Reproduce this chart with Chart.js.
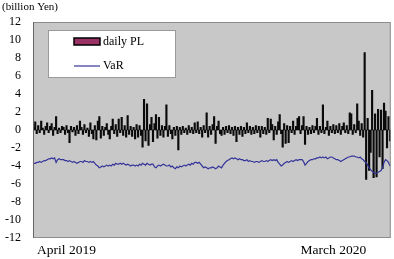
<!DOCTYPE html>
<html>
<head>
<meta charset="utf-8">
<script src="https://cdn.jsdelivr.net/npm/chart.js@4.4.0/dist/chart.umd.min.js"></script>
<style>
  html, body { margin: 0; padding: 0; background: #fff; }
  #wrap { width: 394px; height: 259px; }
</style>
</head>
<body>
<div id="wrap"><canvas id="pl-chart" width="394" height="259"></canvas></div>
<script>
// daily profit/loss, billion yen, one value per trading day (Apr 2019 - Mar 2020)
const dailyPL = [
    0.3, 0.9, -0.4, 0.5, -0.3, 1.0, 0.2, -0.5, 0.4, 0.8,
    -0.3, 0.4, 0.7, -0.6, 0.3, 1.5, -0.4, 0.2, -0.3, 0.4,
    0.3, -0.5, 0.5, -0.3, -1.4, 0.4, -0.2, 0.3, -0.6, 0.5,
    -0.4, 1.0, 0.3, -0.5, 0.6, -0.3, 0.2, -0.7, 0.8, -0.4,
    -1.0, 0.5, -1.1, 1.0, 1.5, -0.9, 0.4, -0.6, 0.3, 0.7,
    -0.5, -1.0, 0.4, 1.2, -0.4, 0.6, -0.7, 1.2, -0.3, 1.4,
    -0.6, 0.5, -0.8, 1.6, -0.5, 0.4, -0.7, 0.3, -1.0, 0.6,
    -0.8, 0.5, -0.6, -1.9, 3.4, -1.2, 2.9, -1.7, 0.6, 1.4,
    -1.3, 0.7, 1.7, -0.9, 1.4, -0.6, 0.5, -0.8, 0.4, 2.8,
    -0.7, 0.5, -0.4, -1.0, 0.3, -0.6, 0.4, -2.2, 0.3, -0.5,
    0.4, -0.3, 0.2, -0.5, 0.5, -0.3, 0.3, -0.4, 0.8, -0.3,
    0.9, -0.4, 0.3, -0.8, 0.5, -0.3, 1.9, -0.8, 0.4, -0.5,
    0.6, 1.5, -1.5, 0.4, 1.0, -0.4, -0.6, 0.3, -0.5, 0.4,
    -0.3, 0.5, -0.4, 0.3, -0.6, 0.4, -1.3, 0.3, -0.5, 0.4,
    -0.7, 0.3, -0.4, 0.8, -0.3, 0.4, -0.5, 0.3, -0.4, 0.5,
    -0.3, 0.4, -0.8, 0.4, -0.4, 0.3, -0.5, 1.3, -0.3, 1.2,
    0.6, -1.1, 0.4, -0.5, 0.9, 1.7, -0.4, -1.9, 0.7, -1.5,
    0.5, -1.4, 0.4, -0.3, 1.0, -0.5, 0.4, 1.3, 1.5, -0.4,
    0.5, 1.5, -1.6, 0.4, -0.5, 0.3, -0.4, 0.5, -0.3, 0.4,
    1.3, -0.5, 0.4, -0.3, 2.8, -0.4, 0.3, 1.0, -0.6, 0.4,
    -0.3, 0.6, -0.4, 0.5, -0.3, 0.7, -0.5, 0.4, 0.8, -0.3,
    0.5, -0.4, 1.9, 1.8, -0.5, 0.6, -0.3, 2.9, 1.0, -0.6,
    0.7, -0.8, 8.6, -5.5, 1.3, -4.5, -2.5, 4.4, -5.3, 1.8,
    -5.2, 2.3, -3.0, 2.2, -4.3, 3.0, 2.1, -2.0, 1.5, -1.2
];

// value at risk (shown as a loss), billion yen
const varLine = [
    -3.7, -3.7, -3.6, -3.6, -3.5, -3.6, -3.5, -3.4, -3.4, -3.3,
    -3.2, -3.2, -3.1, -3.2, -3.1, -3.6, -3.3, -3.2, -3.3, -3.3,
    -3.3, -3.4, -3.4, -3.5, -3.4, -3.5, -3.6, -3.5, -3.6, -3.7,
    -3.6, -3.5, -3.5, -3.6, -3.4, -3.5, -3.5, -3.6, -3.5, -3.6,
    -3.5, -3.7, -3.9, -4.0, -4.2, -4.1, -4.0, -4.1, -4.0, -3.9,
    -4.0, -3.9, -4.0, -3.8, -3.9, -3.7, -3.8, -3.8, -3.7, -3.8,
    -3.7, -3.8, -3.9, -3.8, -3.9, -4.0, -3.9, -3.9, -4.0, -3.9,
    -4.0, -3.8, -3.9, -3.7, -3.8, -3.9, -3.7, -3.8, -3.9, -3.8,
    -3.8, -4.1, -4.2, -4.0, -3.9, -4.0, -3.9, -3.8, -3.9, -4.0,
    -4.0, -3.9, -4.1, -4.0, -4.2, -4.3, -4.1, -4.2, -4.0, -4.1,
    -4.0, -3.9, -4.0, -3.9, -3.8, -3.9, -3.7, -3.8, -3.6, -3.6,
    -3.7, -3.6, -3.8, -4.0, -4.2, -4.1, -4.2, -4.3, -4.2, -4.2,
    -4.1, -4.2, -4.3, -4.2, -4.0, -4.1, -4.2, -3.9, -3.7, -3.5,
    -3.4, -3.3, -3.2, -3.1, -3.2, -3.1, -3.2, -3.3, -3.2, -3.3,
    -3.3, -3.4, -3.4, -3.3, -3.5, -3.4, -3.5, -3.5, -3.6, -3.5,
    -3.5, -3.6, -3.5, -3.4, -3.5, -3.5, -3.4, -3.5, -3.4, -3.3,
    -3.4, -3.3, -3.4, -3.3, -3.6, -3.8, -4.0, -3.9, -3.7, -3.6,
    -3.5, -3.6, -3.5, -3.4, -3.5, -3.4, -3.3, -3.4, -3.3, -3.3,
    -3.3, -3.5, -3.9, -3.7, -3.5, -3.4, -3.3, -3.3, -3.2, -3.2,
    -3.1, -3.1, -3.0, -3.1, -3.0, -3.1, -3.0, -3.2, -3.1, -3.0,
    -3.0, -3.1, -3.2, -3.3, -3.3, -3.4, -3.5, -3.4, -3.3, -3.2,
    -3.1, -3.0, -3.0, -2.9, -2.9, -2.9, -3.0, -3.0, -3.1, -3.0,
    -3.2, -3.3, -3.5, -3.6, -3.9, -4.2, -4.4, -4.6, -4.7, -4.8,
    -4.8, -4.7, -4.6, -4.5, -4.2, -3.6, -3.3, -3.4, -3.6, -4.0
];

const days = dailyPL.map((v, i) => i + 1);
const xTickLabels = ['April 2019', 'March 2020'];
const xTickDays = [23, 202];
const unitLabel = '(billion Yen)';

const serif = "'Liberation Serif', 'Times New Roman', serif";

const framePlugin = {
    id: 'frame',
    beforeDraw(chart) {
        const { ctx, chartArea: a } = chart;
        ctx.save();
        ctx.fillStyle = '#c8c8c8';
        ctx.fillRect(a.left, a.top, a.right - a.left, a.bottom - a.top);
        ctx.restore();
    },
    afterDraw(chart) {
        const { ctx, chartArea: a } = chart;
        ctx.save();
        ctx.strokeStyle = '#8c8c8c';
        ctx.lineWidth = 1;
        ctx.strokeRect(a.left + 0.5, a.top + 0.5, a.right - a.left - 1, a.bottom - a.top - 1);
        ctx.strokeStyle = '#666';
        ctx.beginPath();
        ctx.moveTo(a.left + 0.5, a.top);
        ctx.lineTo(a.left + 0.5, a.bottom);
        ctx.stroke();

        // unit label
        ctx.fillStyle = '#000';
        ctx.font = '11px ' + serif;
        ctx.textBaseline = 'middle';
        ctx.textAlign = 'left';
        ctx.fillText(unitLabel, 2, 7);

        // legend box
        const ds = chart.data.datasets;
        ctx.fillStyle = '#fff';
        ctx.fillRect(48, 30, 128, 48);
        ctx.strokeStyle = '#9a9a9a';
        ctx.strokeRect(48.5, 30.5, 127, 47);

        ctx.fillStyle = ds[0].legendColor;
        ctx.fillRect(74, 38, 26, 7);
        ctx.strokeStyle = '#000';
        ctx.lineWidth = 1.5;
        ctx.strokeRect(74, 38, 26, 7);

        ctx.strokeStyle = ds[1].borderColor;
        ctx.lineWidth = 1.2;
        ctx.beginPath();
        ctx.moveTo(74, 66);
        ctx.lineTo(100, 66);
        ctx.stroke();

        ctx.fillStyle = '#000';
        ctx.font = '12px ' + serif;
        ctx.fillText(ds[0].label, 103, 42);
        ctx.fillText(ds[1].label, 103, 66);
        ctx.restore();
    }
};

new Chart(document.getElementById('pl-chart').getContext('2d'), {
    type: 'bar',
    data: {
        labels: days,
        datasets: [{
            type: 'bar',
            label: 'daily PL',
            data: dailyPL,
            backgroundColor: '#0a0a0a',
            legendColor: '#993366',
            barPercentage: 1,
            categoryPercentage: 1,
            order: 1
        }, {
            type: 'line',
            label: 'VaR',
            data: varLine,
            borderColor: '#34349a',
            borderWidth: 1.2,
            pointRadius: 0,
            tension: 0,
            order: 0
        }]
    },
    options: {
        responsive: false,
        animation: false,
        devicePixelRatio: 1,
        layout: { padding: { top: 22, right: 1, left: 0, bottom: 0 } },
        plugins: { legend: { display: false }, tooltip: { enabled: false } },
        scales: {
            x: {
                grid: { display: false, drawTicks: false },
                border: { display: false },
                ticks: {
                    autoSkip: false,
                    maxRotation: 0,
                    minRotation: 0,
                    padding: 4,
                    color: '#000',
                    font: { family: serif, size: 13.5 },
                    callback: (v, i) => {
                        const k = xTickDays.indexOf(i + 1);
                        return k >= 0 ? xTickLabels[k] : '';
                    }
                },
                afterFit: (s) => { s.height = 21; }
            },
            y: {
                min: -12,
                max: 12,
                grid: { display: false, drawTicks: false },
                border: { display: false },
                ticks: {
                    stepSize: 2,
                    padding: 12,
                    color: '#000',
                    font: { family: serif, size: 12 }
                },
                afterFit: (s) => { s.width = 33; }
            }
        }
    },
    plugins: [framePlugin]
});
</script>
</body>
</html>
